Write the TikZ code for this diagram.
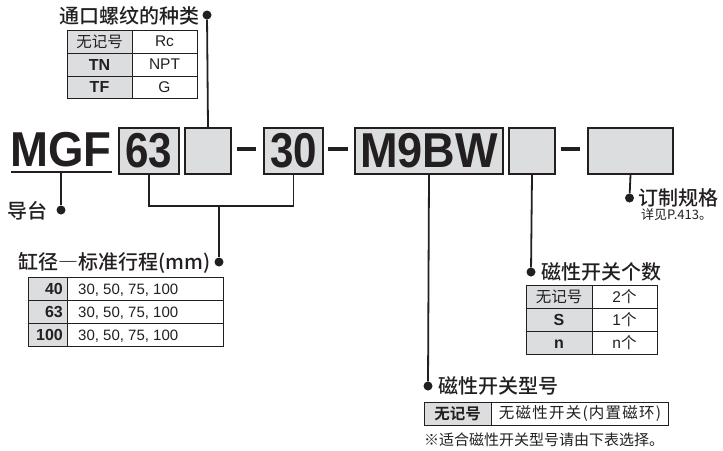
\documentclass[tikz,border=0pt]{standalone}
\usepackage{fontspec}
\setmainfont{Liberation Sans}
\newfontfamily\cjk{Noto Sans CJK SC}
\newfontfamily\cjkm{Noto Sans CJK SC Medium}
\newfontfamily\cjkb{Noto Sans CJK SC Bold}
\definecolor{ink}{HTML}{231F20}
\definecolor{boxgray}{HTML}{DCDDDF}
\begin{document}
\begin{tikzpicture}[x=1pt,y=-1pt,
  codebox/.style={draw=ink, line width=2pt, fill=boxgray, inner sep=0pt, anchor=north west},
  conn/.style={draw=ink, line width=1.8pt},
  dotn/.style={circle, fill=ink, inner sep=0pt, minimum size=9pt},
  cellg/.style={draw=ink, line width=0.9pt, fill=boxgray},
  cellw/.style={draw=ink, line width=0.9pt, fill=white},
  big/.style={inner sep=0pt, text=ink, font=\fontsize{49}{49}\bfseries\selectfont},
  capt/.style={inner sep=0pt, text=ink, font=\cjkm\fontsize{20}{20}\selectfont},
  tcj/.style={inner sep=0pt, text=ink, font=\cjk\fontsize{15.5}{15.5}\selectfont},
  tcjb/.style={inner sep=0pt, text=ink, font=\cjkb\fontsize{15.5}{15.5}\selectfont},
  tlat/.style={inner sep=0pt, text=ink, font=\fontsize{15.5}{15.5}\selectfont},
  tlatb/.style={inner sep=0pt, text=ink, font=\fontsize{16}{16}\bfseries\selectfont},
  dashl/.style={draw=ink, line width=3.5pt}
]
\useasboundingbox (0,0) rectangle (723,450);

% ---------- code boxes ----------
\node[big, anchor=center] (mgf) at (61,150) {\scalebox{0.93}[1]{MGF}};
\coordinate (ul1) at (11,172);
\coordinate (ul2) at (112,172);
\coordinate (ulm) at (61,172);
\draw[draw=ink, line width=2pt] (ul1) -- (ul2);

\node[codebox, minimum width=60pt, minimum height=46pt] (b63) at (118,127) {};
\node[big, anchor=center] (t63) at (b63.center) {\scalebox{0.86}[1]{63}};
\node[codebox, minimum width=46pt, minimum height=46pt] (bport) at (184,127) {};
\coordinate (da1) at (237,149); \coordinate (da2) at (256,149);
\draw[dashl] (da1) -- (da2);
\node[codebox, minimum width=59pt, minimum height=46pt] (b30) at (263,127) {};
\node[big, anchor=center] (t30) at (b30.center) {\scalebox{0.86}[1]{30}};
\coordinate (db1) at (328,149); \coordinate (db2) at (348,149);
\draw[dashl] (db1) -- (db2);
\node[codebox, minimum width=148pt, minimum height=46pt] (bsw) at (354,127) {};
\node[big, anchor=center] (tsw) at (bsw.center) {\scalebox{0.92}[1]{M9BW}};
\node[codebox, minimum width=46pt, minimum height=46pt] (bnum) at (508,127) {};
\coordinate (dc1) at (561,149); \coordinate (dc2) at (580,149);
\draw[dashl] (dc1) -- (dc2);
\node[codebox, minimum width=85pt, minimum height=46pt] (bcus) at (587,127) {};

% ---------- dots ----------
\node[dotn] (dport) at (207,15) {};
\node[dotn] (dguide) at (61,210) {};
\node[dotn] (dbore) at (219,262) {};
\node[dotn] (dcus) at (629.5,198) {};
\node[dotn] (dnum) at (531,272) {};
\node[dotn] (dsw) at (428,386) {};

% ---------- connectors ----------
\draw[conn] (dport) -- (bport.north);
\draw[conn] (ulm) -- (dguide);
\coordinate (brk) at (219,206);
\draw[conn] (b63.south) |- (brk) -| (b30.south);
\draw[conn] (brk) -- (dbore);
\draw[conn] (bcus.south) -- (dcus);
\draw[conn] (bnum.south) -- (dnum);
\draw[conn] (bsw.south) -- (dsw);

% ---------- captions ----------
\node[capt, anchor=east] (cport) at (200,16) {通口螺纹的种类};
\node[capt, anchor=east] (cguide) at (48,211) {导台};
\node[capt, anchor=east] (cbore) at (211,263) {缸径{\addfontfeature{RawFeature=+fwid}—}标准行程(mm)};
\node[capt, anchor=west] (ccus) at (638,198) {订制规格};
\node[inner sep=0pt, text=ink, font=\cjk\fontsize{13}{13}\selectfont, anchor=west] (ccus2) at (641,215) {详见P.413。};
\node[capt, anchor=west] (cnum) at (541,272) {磁性开关个数};
\node[capt, anchor=west] (csw) at (438,386) {磁性开关型号};

% ---------- table 1: port thread ----------
\draw[cellg] (67,30) rectangle (132,53);
\draw[cellg] (67,53) rectangle (132,76);
\draw[cellg] (67,76) rectangle (132,98);
\draw[cellw] (132,30) rectangle (197,53);
\draw[cellw] (132,53) rectangle (197,76);
\draw[cellw] (132,76) rectangle (197,98);
\node[tcj] (p1a) at (99.5,41.5) {无记号};
\node[tlatb] (p2a) at (99.5,64.5) {TN};
\node[tlatb] (p3a) at (99.5,87) {TF};
\node[tlat] (p1b) at (164.5,41.5) {Rc};
\node[tlat] (p2b) at (164.5,64.5) {NPT};
\node[tlat] (p3b) at (164.5,87) {G};

% ---------- table 2: bore / stroke ----------
\draw[cellg] (28,277) rectangle (67,300);
\draw[cellg] (28,300) rectangle (67,323);
\draw[cellg] (28,323) rectangle (67,346);
\draw[cellw] (67,277) rectangle (223,300);
\draw[cellw] (67,300) rectangle (223,323);
\draw[cellw] (67,323) rectangle (223,346);
\node[tlatb, anchor=east] (s1a) at (63,288.5) {40};
\node[tlatb, anchor=east] (s2a) at (63,311.5) {63};
\node[tlatb, anchor=east] (s3a) at (63,334.5) {100};
\node[tlat, anchor=base west, font=\fontsize{15}{15}\selectfont] (s1b) at (78,294) {30, 50, 75, 100};
\node[tlat, anchor=base west, font=\fontsize{15}{15}\selectfont] (s2b) at (78,317) {30, 50, 75, 100};
\node[tlat, anchor=base west, font=\fontsize{15}{15}\selectfont] (s3b) at (78,340) {30, 50, 75, 100};

% ---------- table 3: number of switches ----------
\draw[cellg] (526,285) rectangle (592,308);
\draw[cellg] (526,308) rectangle (592,331);
\draw[cellg] (526,331) rectangle (592,354);
\draw[cellw] (592,285) rectangle (657,308);
\draw[cellw] (592,308) rectangle (657,331);
\draw[cellw] (592,331) rectangle (657,354);
\node[tcj] (n1a) at (559,296.5) {无记号};
\node[tlatb] (n2a) at (559,319.5) {S};
\node[tlatb, anchor=base] (n3a) at (559,348) {n};
\node[tcj, anchor=base] (n1b) at (624.5,302) {\fontspec{Liberation Sans}2\cjk 个};
\node[tcj, anchor=base] (n2b) at (624.5,325) {\fontspec{Liberation Sans}1\cjk 个};
\node[tcj, anchor=base] (n3b) at (624.5,348) {\fontspec{Liberation Sans}n\cjk 个};

% ---------- table 4: switch model ----------
\draw[cellg] (424,402) rectangle (491,425);
\draw[cellw] (491,402) rectangle (668,425);
\node[tcjb] (m1a) at (457.5,413.5) {无记号};
\node[tcj, font=\cjk\fontsize{15.5}{15.5}\selectfont\addfontfeature{LetterSpace=8}] (m1b) at (580,413.5) {无磁性开关(内置磁环)};
\node[inner sep=0pt, text=ink, font=\cjk\fontsize{15}{15}\selectfont, anchor=west] (note) at (424,440) {※适合磁性开关型号请由下表选择。};
\end{tikzpicture}
\end{document}
